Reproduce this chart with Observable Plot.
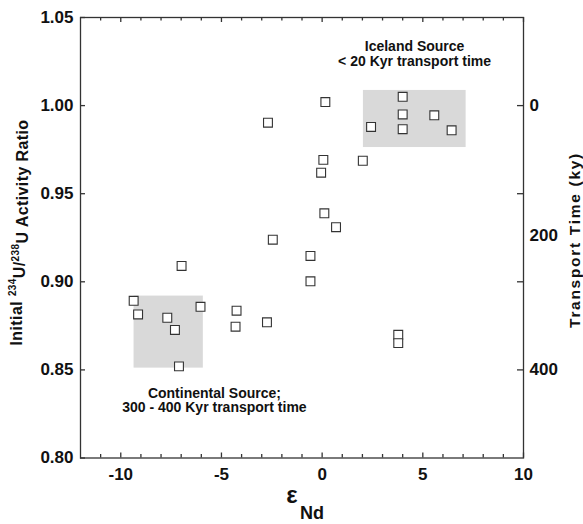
<!DOCTYPE html>
<html>
<head>
<meta charset="utf-8">
<script src="https://cdn.jsdelivr.net/npm/d3@7"></script>
<script src="https://cdn.jsdelivr.net/npm/@observablehq/plot@0.6"></script>
<style>
  body { margin: 0; background: #fff; }
  svg { display: block; }
</style>
</head>
<body>
<div id="chart"></div>
<script>
// ---- data ----
const epsNd = [-2.69, -2.45, 0.16, 4.0, 4.0, 4.0, 2.43, 5.57, 6.43, 0.06, -0.05, 2.02, 0.11, 0.69, -0.58, -0.58, 3.78, 3.78, -6.98, -9.36, -9.14, -7.69, -7.31, -6.04, -7.11, -4.25, -4.30, -2.74];
const ratio = [0.9903, 0.9239, 1.002, 1.005, 0.995, 0.9866, 0.9879, 0.9945, 0.986, 0.9692, 0.9619, 0.9687, 0.9389, 0.931, 0.9147, 0.9003, 0.8699, 0.8652, 0.909, 0.8892, 0.8815, 0.8796, 0.8727, 0.8858, 0.852, 0.8836, 0.8745, 0.877];

const boxNames = ["Iceland", "Continental"];
const boxX1 = [2.05, -9.34];
const boxX2 = [7.15, -5.9];
const boxY1 = [0.9762, 0.851];
const boxY2 = [1.0086, 0.8919];

const annoText = ["Iceland Source\n< 20 Kyr transport time", "Continental Source;\n300 - 400 Kyr transport time"];
const annoX = [4.59, -5.35];
const annoY = [1.0296, 0.8328];
const annoLineHeight = [1.12, 1.04];

const xDomain = [-12, 10];
const yDomain = [0.80, 1.05];
const xMajorTicks = [-10, -5, 0, 5, 10];
const xMinorTicks = [-11, -9, -8, -7, -6, -4, -3, -2, -1, 1, 2, 3, 4, 6, 7, 8, 9];
const yTicks = [0.80, 0.85, 0.90, 0.95, 1.00, 1.05];
const rightTicks = [1.00, 0.95, 0.90, 0.85];
const rightLabels = ["0", "200", "400"];
const rightLabelRatio = [1.00, 0.9263, 0.85];

const xTitleMain = "ε";
const xTitleSub = "Nd";
const rightTitle = "Transport Time (ky)";

// ---- build tables ----
const points = epsNd.map((e, i) => ({eps: e, ratio: ratio[i]}));
const boxes = boxNames.map((n, i) => ({name: n, x1: boxX1[i], x2: boxX2[i], y1: boxY1[i], y2: boxY2[i]}));
const rightLab = rightLabels.map((l, i) => ({label: l, v: rightLabelRatio[i]}));

const FONT = "'Liberation Sans', Arial, Helvetica, sans-serif";
const INK = "#111";
const AXIS = "#333";

const W = 583, H = 524;
const mL = 80, mR = 60, mT = 17, mB = 66.5;
const innerW = W - mL - mR, innerH = H - mT - mB;

const annoMarks = annoText.map((t, i) =>
  Plot.text([t], {x: () => annoX[i], y: () => annoY[i], fontSize: 14, fontWeight: "bold",
    lineHeight: annoLineHeight[i], fill: INK}));

const chart = Plot.plot({
  width: W,
  height: H,
  marginLeft: mL,
  marginRight: mR,
  marginTop: mT,
  marginBottom: mB,
  x: {domain: xDomain},
  y: {domain: yDomain},
  style: {fontFamily: FONT, color: INK, background: "#fff", overflow: "visible"},
  marks: [
    Plot.rect(boxes, {x1: "x1", x2: "x2", y1: "y1", y2: "y2", fill: "#d9d9d9"}),
    // inward ticks: bottom / top
    Plot.ruleX(xMajorTicks, {x: d => d, insetTop: innerH - 5, stroke: AXIS, strokeWidth: 1.3}),
    Plot.ruleX(xMinorTicks, {x: d => d, insetTop: innerH - 3.5, stroke: AXIS, strokeWidth: 1.3}),
    Plot.ruleX(xMajorTicks, {x: d => d, insetBottom: innerH - 5, stroke: AXIS, strokeWidth: 1.3}),
    Plot.ruleX(xMinorTicks, {x: d => d, insetBottom: innerH - 3.5, stroke: AXIS, strokeWidth: 1.3}),
    // inward ticks: left / right
    Plot.ruleY(yTicks, {y: d => d, insetRight: innerW - 5, stroke: AXIS, strokeWidth: 1.3}),
    Plot.ruleY(rightTicks, {y: d => d, insetLeft: innerW - 6, stroke: AXIS, strokeWidth: 1.3}),
    Plot.frame({stroke: AXIS, strokeWidth: 1.3}),
    Plot.axisX({anchor: "bottom", ticks: xMajorTicks, tickSize: 0, tickPadding: 10, tickFormat: d => String(d),
      fontSize: 17, fontWeight: "bold", label: null}),
    Plot.axisY({anchor: "left", ticks: yTicks, tickSize: 0, tickPadding: 7, tickFormat: d3.format(".2f"),
      fontSize: 17, fontWeight: "bold", label: null}),
    Plot.text(rightLab, {x: () => xDomain[1], y: "v", text: "label", dx: 6, textAnchor: "start",
      fontSize: 17, fontWeight: "bold", fill: INK}),
    Plot.dot(points, {x: "eps", y: "ratio", symbol: "square", r: 5, fill: "white", stroke: "#333", strokeWidth: 1.1}),
    ...annoMarks,
    Plot.text([xTitleMain], {frameAnchor: "bottom", textAnchor: "middle", lineAnchor: "middle", dx: -10, dy: 37,
      fontSize: 24, fontWeight: "bold", fill: INK}),
    Plot.text([xTitleSub], {frameAnchor: "bottom", textAnchor: "middle", lineAnchor: "middle", dx: 10, dy: 55.5,
      fontSize: 18, fontWeight: "bold", fill: INK})
  ]
});

const svg = d3.select(chart);

// Left title with superscripts
const lt = svg.append("text")
  .attr("transform", "translate(16,232.5) rotate(-90)")
  .attr("text-anchor", "middle")
  .attr("dy", "0.35em")
  .attr("fill", INK)
  .attr("font-family", FONT)
  .attr("font-weight", "bold")
  .attr("font-size", 16)
  .attr("letter-spacing", "0.4px");
lt.append("tspan").text("Initial ");
lt.append("tspan").attr("font-size", 10).attr("dy", "-0.55em").text("234");
lt.append("tspan").attr("dy", "0.55em").text("U/");
lt.append("tspan").attr("font-size", 10).attr("dy", "-0.55em").text("238");
lt.append("tspan").attr("dy", "0.55em").text("U Activity Ratio");

// Right title
svg.append("text")
  .attr("transform", "translate(575,240) rotate(-90)")
  .attr("text-anchor", "middle")
  .attr("dy", "0.33em")
  .attr("fill", INK)
  .attr("font-family", FONT)
  .attr("font-weight", "bold")
  .attr("font-size", 15.5)
  .attr("letter-spacing", "1.7px")
  .text(rightTitle);

document.getElementById("chart").appendChild(chart);
</script>
</body>
</html>
